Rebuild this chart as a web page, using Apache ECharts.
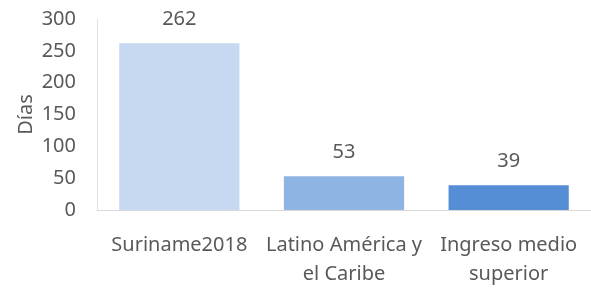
<!DOCTYPE html>
<html>
<head>
<meta charset="utf-8">
<script src="https://cdn.jsdelivr.net/npm/echarts@6/dist/echarts.min.js"></script>
<style>
  html, body { margin: 0; padding: 0; background: #fff; }
  #chart { width: 591px; height: 289px; }
</style>
</head>
<body>
<div id="chart"></div>
<script>
var categories = ['Suriname2018', 'Latino América y\nel Caribe', 'Ingreso medio\nsuperior'];
var values = [262, 53, 39];
var barColors = ['#C6D9F1', '#8EB4E3', '#558ED5'];
var yTicks = [0, 50, 100, 150, 200, 250, 300];

var textColor = '#595959';
var fontFam = '"Noto Sans", "Open Sans", sans-serif';

var chart = echarts.init(document.getElementById('chart'));
chart.setOption({
  animation: false,
  grid: { left: 97, right: 0, top: 19, bottom: 73 },
  xAxis: {
    type: 'category',
    data: categories,
    axisLine: { lineStyle: { color: '#D9D9D9', width: 1 } },
    axisTick: { show: false },
    axisLabel: {
      color: textColor, fontSize: 20, fontFamily: fontFam,
      margin: 21, lineHeight: 29, interval: 0
    }
  },
  yAxis: {
    type: 'value',
    min: yTicks[0],
    max: yTicks[yTicks.length - 1],
    interval: 50,
    name: 'Días',
    nameLocation: 'middle',
    nameGap: 61,
    nameMoveOverlap: false,
    nameTextStyle: { color: textColor, fontSize: 20, fontFamily: fontFam },
    axisLine: { show: true, lineStyle: { color: '#DCE4F0', width: 1 } },
    axisTick: { show: false },
    splitLine: { show: false },
    axisLabel: { color: textColor, fontSize: 20, fontFamily: fontFam, margin: 21 }
  },
  series: [{
    type: 'bar',
    barCategoryGap: '27%',
    data: values.map(function (v, i) {
      return { value: v, itemStyle: { color: barColors[i] } };
    }),
    label: {
      show: true, position: 'top', distance: 14,
      color: textColor, fontSize: 20, fontFamily: fontFam
    }
  }]
});
</script>
</body>
</html>
